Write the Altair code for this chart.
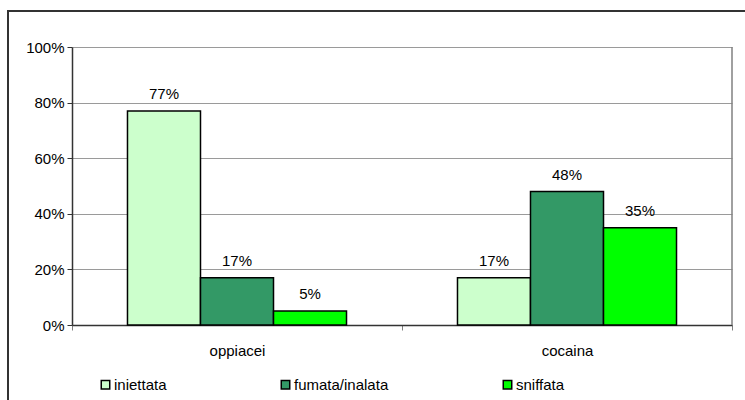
import altair as alt
import pandas as pd

# Route of administration by substance (percent of users)
sostanze = ["oppiacei", "cocaina"]
modalita = ["iniettata", "fumata/inalata", "sniffata"]
valori = {
    "oppiacei": [77, 17, 5],
    "cocaina": [17, 48, 35],
}
colori = ["#CCFFCC", "#339966", "#00FF00"]
tick_y = [0, 20, 40, 60, 80, 100]

rows = []
for s in sostanze:
    for m, v in zip(modalita, valori[s]):
        rows.append({"sostanza": s, "modalita": m, "valore": v})
df = pd.DataFrame(rows)

W, H = 660, 278
FONT = "Liberation Sans"
FS = 15

x_enc = alt.X(
    "sostanza:N",
    sort=sostanze,
    scale=alt.Scale(paddingInner=0, paddingOuter=0),
    axis=alt.Axis(
        title=None,
        labelAngle=0,
        tickBand="extent",
        tickSize=5,
        tickColor="#808080",
        domainColor="#333333",
        domainWidth=1.5,
        labelPadding=13,
        labelFontSize=FS,
        labelColor="#000000",
        labelFont=FONT,
    ),
)
xoff_enc = alt.XOffset(
    "modalita:N", sort=modalita, scale=alt.Scale(paddingOuter=0.76, paddingInner=0)
)
y_enc = alt.Y(
    "valore:Q",
    scale=alt.Scale(domain=[0, 100], nice=False),
    axis=alt.Axis(
        title=None,
        values=tick_y,
        labelExpr="datum.value + '%'",
        grid=True,
        gridColor="#9a9a9a",
        gridWidth=1,
        tickSize=5,
        tickColor="#333333",
        domainColor="#333333",
        domainWidth=1.5,
        labelPadding=3,
        labelFontSize=FS,
        labelColor="#000000",
        labelFont=FONT,
    ),
)

bars = alt.Chart(df).mark_bar(stroke="black", strokeWidth=1.5).encode(
    x=x_enc,
    xOffset=xoff_enc,
    y=y_enc,
    color=alt.Color(
        "modalita:N",
        sort=modalita,
        scale=alt.Scale(domain=modalita, range=colori),
        legend=alt.Legend(
            title=None,
            orient="none",
            legendX=26,
            legendY=330,
            direction="horizontal",
            columnPadding=111,
            symbolType="square",
            symbolSize=72,
            symbolStrokeColor="black",
            symbolStrokeWidth=1.5,
            symbolOpacity=1,
            labelFontSize=FS,
            labelFont=FONT,
            labelColor="#000000",
            labelOffset=1,
        ),
    ),
)

labels = alt.Chart(df).mark_text(
    baseline="bottom", dy=-9, fontSize=FS, font=FONT, color="#000000"
).encode(
    x=alt.X("sostanza:N", sort=sostanze),
    xOffset=alt.XOffset("modalita:N", sort=modalita),
    y="valore:Q",
    text=alt.Text("label:N"),
).transform_calculate(label="datum.valore + '%'")

frame_df = pd.DataFrame({"k": [0]})
right_edge = alt.Chart(frame_df).mark_rule(color="#808080", strokeWidth=1.5).encode(
    x=alt.value(W), y=alt.value(0), y2=alt.value(H)
)
outer = alt.Chart(frame_df).mark_rect(
    fill=None, stroke="#333333", strokeWidth=2
).encode(
    x=alt.value(-64), x2=alt.value(W + 80), y=alt.value(-36), y2=alt.value(H + 120)
)

chart = (
    alt.layer(bars, labels, right_edge, outer)
    .properties(
        width=W,
        height=H,
        autosize=alt.AutoSizeParams(type="none"),
        padding={"left": 72, "top": 47, "right": 13, "bottom": 75},
        background="white",
    )
    .configure_view(stroke=None)
)

chart.save("out.html", embed_options={"renderer": "svg", "actions": False})
